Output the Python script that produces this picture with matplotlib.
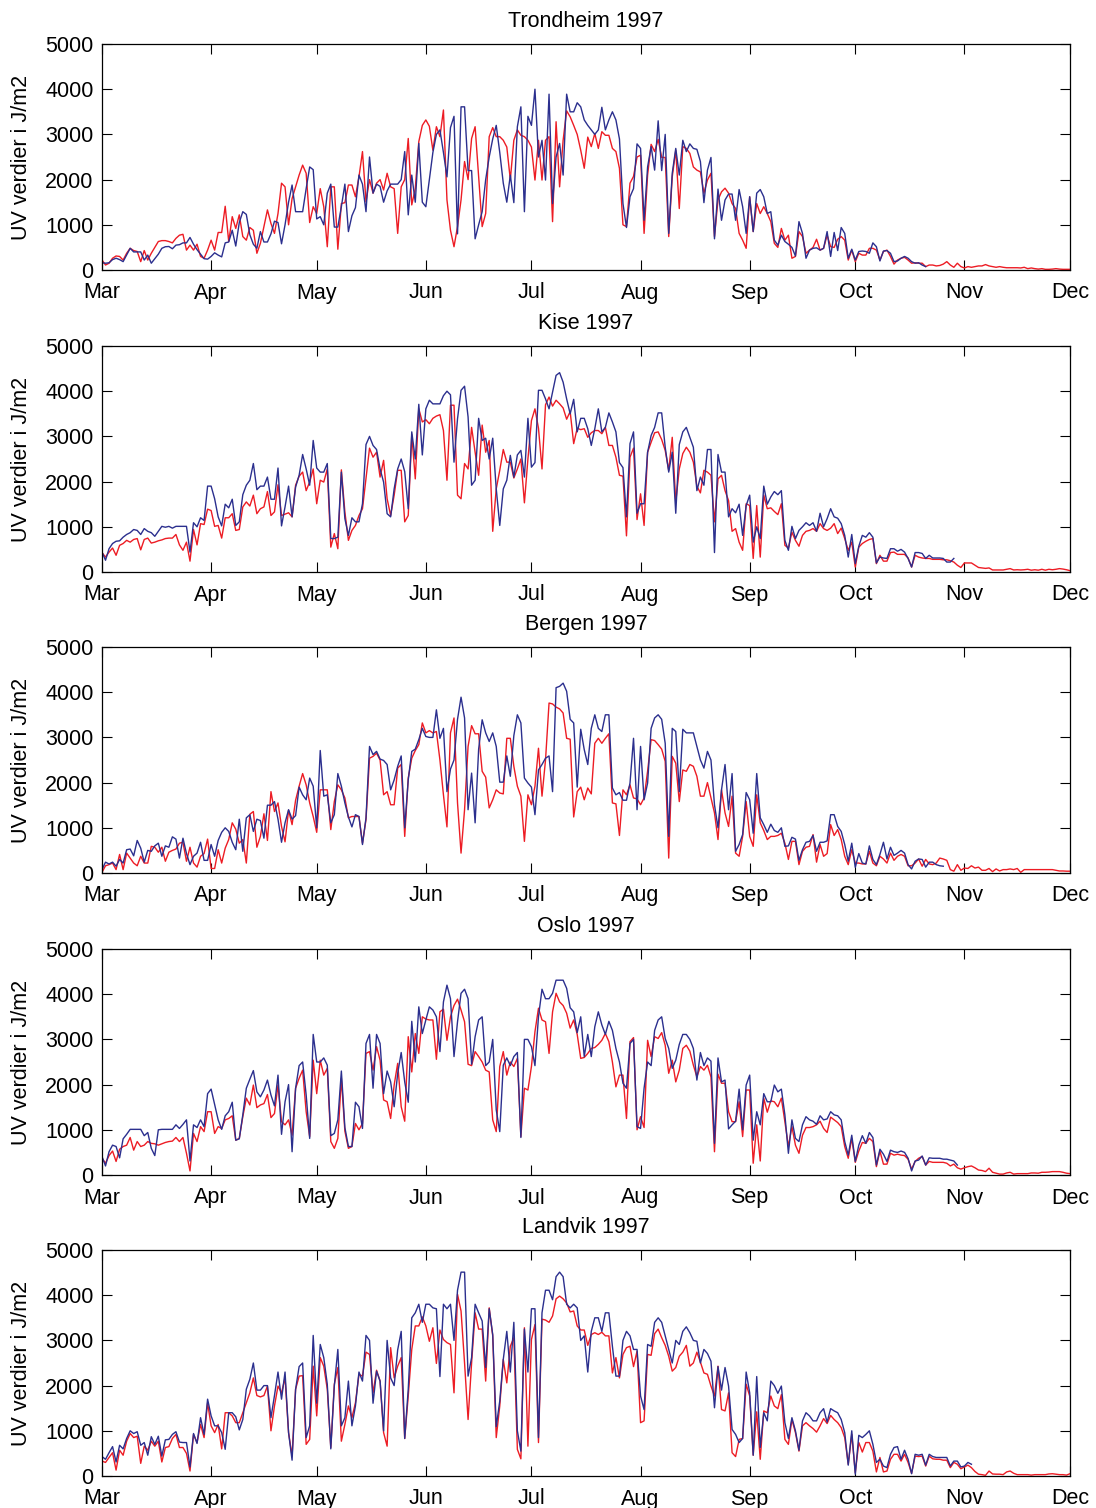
import numpy as np
import matplotlib
matplotlib.use("Agg")
import matplotlib.pyplot as plt

plt.rcParams['font.family'] = ['Liberation Sans', 'DejaVu Sans']

START = '1997-03-01'
END = '1997-12-01'
MONTH_LABELS = ['Mar', 'Apr', 'May', 'Jun', 'Jul', 'Aug', 'Sep', 'Oct', 'Nov', 'Dec']
YTICKS = [0, 1000, 2000, 3000, 4000, 5000]
YLABEL = 'UV verdier i J/m2'
TITLES = ['Trondheim 1997', 'Kise 1997', 'Bergen 1997', 'Oslo 1997', 'Landvik 1997']

# daily values starting 1 March 1997
TR_BLUE = [160,150,160,230,260,230,185,330,480,400,
           400,400,220,330,150,250,350,480,515,520,
           470,550,560,600,600,720,570,450,350,250,
           240,300,380,330,290,600,620,880,530,1050,
           1290,1230,780,570,480,850,620,620,800,1080,
           1050,580,1000,1500,1880,1290,1290,1290,1800,2280,
           2220,1130,1180,1000,1700,1900,950,950,1400,1900,
           850,1200,1380,2100,1900,1290,2500,1700,1900,1850,
           1500,1750,1900,1900,1900,2000,2620,1220,2100,1500,
           2800,1500,1400,2000,2600,3000,3100,2600,2060,3150,
           3400,800,3610,3610,2200,2200,690,1000,1290,2000,
           2500,2900,3200,2600,1920,1500,2100,1490,3170,3610,
           1290,3400,3200,4000,2500,2870,1990,3890,1470,2500,
           2800,2100,3890,3500,3500,3700,3610,3320,3200,3100,
           3000,3100,3600,3100,3320,3500,3320,2900,1470,940,
           1620,1800,2790,2690,1100,2280,2730,2210,3300,2200,
           3000,810,2140,2690,2100,2870,2620,2790,2690,2670,
           2400,1490,2210,2490,690,1790,1100,1550,1680,1680,
           1100,1780,1400,810,1620,850,1700,1780,1620,1250,
           1290,660,550,770,630,570,500,310,1070,810,
           260,440,480,490,440,480,850,300,830,430,
           940,810,260,460,220,410,420,410,370,600,
           515,200,420,430,370,185,200,260,300,260,
           185,150,160,110,75]
TR_RED = [220,110,150,260,310,300,220,370,480,430,
          410,185,430,220,370,500,630,650,650,630,
          600,700,770,790,440,550,440,570,300,260,
          440,660,440,830,830,1410,630,1180,920,1220,
          740,660,940,880,370,590,960,1330,1030,810,
          1250,1920,1840,1000,1580,1840,2100,2320,2140,1050,
          1400,1250,1800,1400,515,1840,1840,460,1470,1490,
          1880,1880,1620,2060,2620,1510,2000,1700,1920,2000,
          1770,2140,1840,1800,810,1840,2000,2910,1440,1800,
          2840,3200,3320,3180,2650,3170,2950,3540,1550,880,
          515,960,1550,2400,2000,2910,3170,2060,960,1250,
          2950,3150,2950,2950,2870,2720,2000,2870,3100,2980,
          2950,2870,2720,1990,2870,1990,2870,2950,1070,3280,
          1840,2870,3520,3390,3200,3000,2650,2250,2940,2730,
          3020,2690,3060,2980,2980,2690,2620,2250,1000,960,
          1920,2070,2500,2540,810,2100,2780,2620,2890,2490,
          2490,740,2060,2650,1360,2730,2690,2580,2280,2210,
          2170,1700,1990,2140,740,1550,1730,1810,1700,1470,
          1360,810,660,480,1620,850,1470,1250,1400,1250,
          1070,590,500,920,660,770,260,300,850,740,
          370,440,500,680,440,480,770,515,500,680,
          740,660,220,440,185,370,330,330,480,480,
          440,220,410,440,300,130,220,260,280,220,
          150,160,150,150,75,110,110,90,100,130,
          185,110,60,150,75,45,75,60,75,90,
          90,120,90,75,60,75,60,50,50,50,
          50,45,60,30,45,30,20,30,15,15,
          20,30,20,15,15,15]

KI_BLUE = [440,260,515,630,680,690,770,830,870,940,
           920,830,960,900,870,790,900,1010,990,1010,
           970,1010,1010,1010,1010,440,1090,1000,1200,1140,
           1900,1900,1620,1220,1020,1500,1420,1610,1030,1110,
           1710,1920,2030,2400,1820,1900,1900,2100,1610,1610,
           2300,1020,1440,1900,1220,1880,2140,2600,2280,1920,
           2910,2300,2210,2210,2400,740,740,770,2210,1180,
           810,1200,1110,1110,1510,2820,3000,2800,2710,2280,
           1990,1290,1220,1840,2280,2500,2220,1400,3100,2500,
           3710,2590,3610,3800,3720,3720,3720,3900,4000,3920,
           2430,3390,4020,4110,3430,1920,2030,3400,2910,2960,
           2500,2960,1840,1030,1840,2030,2580,2100,2590,2690,
           2100,3400,2320,2420,4020,4020,3830,3610,3980,4350,
           4410,4200,3830,3500,3820,3100,3400,3400,3170,2800,
           3170,3610,3100,3200,3520,3320,3100,2420,2310,1220,
           2840,3100,1300,1510,1510,2650,3020,3200,3520,3520,
           2760,2210,2650,1300,2820,3100,3200,2980,2760,1800,
           2100,1920,2710,2710,430,2600,2210,2210,1220,1400,
           1310,1500,810,1470,1700,660,1000,740,1900,1500,
           1660,1780,1710,1800,700,480,1010,740,920,1000,
           1090,1030,1090,900,1300,1000,1180,1400,1220,1190,
           1070,810,330,830,185,570,810,770,870,770,
           200,330,310,300,515,515,460,500,440,300,
           110,430,430,410,300,370,310,310,310,300,
           220,220,300]
KI_RED = [430,330,440,530,370,590,630,700,660,720,
          740,490,720,750,640,660,690,710,740,750,
          750,830,600,480,660,240,940,600,1070,1050,
          1390,1360,1010,1030,750,1200,1200,1290,920,940,
          1440,1550,1460,1700,1290,1400,1440,1780,1250,1330,
          1930,1250,1280,1310,1220,1920,2120,2210,1800,1990,
          2280,1510,2030,1990,2280,550,850,515,2260,1330,
          700,920,1030,1250,1400,2060,2740,2540,2650,2100,
          2470,1620,1250,1700,2250,2250,1110,1250,3040,2060,
          3610,3320,3370,3280,3400,3450,3480,3130,2030,3690,
          3690,1700,1620,2400,2280,3200,2650,2140,3250,2650,
          2910,900,1840,2250,2710,2430,2430,2080,2280,2500,
          1530,2500,3350,3610,3180,2280,3700,3870,3670,3800,
          3720,3630,3380,3550,2840,3180,3150,3170,2980,3080,
          3130,3130,3060,3200,2800,2800,2540,2140,2120,800,
          2540,2740,1160,1730,1030,2650,2870,3080,3100,2930,
          2690,2250,2980,1550,2280,2620,2760,2650,2430,1900,
          1750,2250,2210,2140,1110,2060,2140,1800,1580,900,
          960,660,480,1510,1470,300,1470,330,1700,1400,
          1420,1340,1270,1510,590,530,880,700,570,810,
          900,920,960,900,1070,960,920,970,1070,850,
          970,740,480,660,110,550,630,680,720,740,
          185,370,240,240,430,440,390,390,390,310,
          110,370,330,310,300,300,280,280,280,270,
          270,250,220,150,100,200,200,200,150,100,
          90,80,90,45,45,45,45,60,75,45,
          50,45,50,60,40,50,40,60,40,60,
          50,60,75,65,50,30]

BE_BLUE = [75,240,200,240,150,300,220,515,530,380,
           720,550,240,500,480,600,660,370,600,570,
           800,750,330,770,430,185,370,440,680,280,
           280,630,370,720,900,1000,920,680,515,1190,
           480,1220,1290,920,1190,1160,770,1500,1500,1580,
           1190,680,1110,1400,1190,1270,1900,1730,1620,2100,
           1920,1000,2710,1700,1730,1110,1290,2200,1920,1550,
           1240,1020,1290,1250,630,1220,2800,2620,2690,2520,
           2490,2400,1840,2060,2360,2590,1000,2060,2690,2740,
           2950,3200,3020,3000,3000,3610,2980,3200,1800,2300,
           2500,3400,3890,3430,1400,2210,1110,2740,3390,3100,
           2910,3100,2800,2010,2010,2590,2140,3040,3500,3320,
           2100,1990,1900,1290,2280,2400,2540,2590,1800,4100,
           4130,4200,4020,3400,3320,1900,3180,2730,2400,3200,
           3500,3200,3130,3500,3500,1880,1730,1780,1610,1610,
           1990,2980,1400,2800,1620,1990,3200,3430,3500,3400,
           2870,810,3200,3130,1800,3180,3100,3100,3100,2800,
           2500,2320,2690,2500,1510,1000,1840,2400,1400,2200,
           480,630,850,1780,1620,880,2200,1220,1070,900,
           1080,940,900,1000,590,600,790,750,280,515,
           680,700,830,480,680,680,710,1290,1290,1030,
           920,630,260,660,125,430,220,200,600,300,
           185,410,680,310,570,390,440,500,440,185,
           90,260,310,300,130,240,240,185,160,150]
BE_RED = [15,160,185,220,75,410,75,440,330,220,
          160,370,220,220,590,570,460,570,260,460,
          500,530,660,680,260,570,220,130,370,430,
          750,100,100,515,220,550,740,1110,970,660,
          740,220,1300,1360,570,810,1310,720,1800,1360,
          1550,1030,690,1390,1070,1610,1920,2200,1950,1550,
          1250,900,1840,1840,1840,960,1580,1950,1840,1660,
          1220,1250,1250,1250,660,1180,2540,2580,2650,2500,
          1730,1800,1510,1510,2320,2400,810,2100,2540,2710,
          2840,3320,3100,3150,3100,3130,2500,1730,1020,3100,
          3430,1550,440,1400,2800,3260,3080,3080,2250,2120,
          1440,1620,1840,1770,1750,2980,2980,2360,1920,1700,
          700,1730,1510,1920,2760,1700,2500,3760,3740,3670,
          3630,3540,2980,2960,1240,1800,1900,1620,1880,1750,
          2870,2980,2870,2980,3080,1550,1530,830,1840,1730,
          1950,1660,1640,1510,1660,2250,2950,2930,2840,2740,
          2470,330,2580,2430,1580,2280,2250,2400,2360,2140,
          1700,1700,2000,1660,1330,740,1840,1330,1030,1700,
          440,370,810,1580,810,590,1730,1110,940,740,
          810,810,830,880,660,300,700,700,185,480,
          570,590,850,240,630,370,430,1070,830,960,
          740,370,185,515,220,220,200,200,480,220,
          160,370,310,220,440,280,370,410,370,160,
          160,220,310,150,300,200,185,220,330,310,
          280,75,40,185,60,110,100,160,110,130,
          60,60,100,30,90,45,75,75,90,75,
          100,15,75,75,75,75,75,75,75,75,
          75,60,45,45,40,40]

OS_BLUE = [410,200,515,660,630,380,800,900,1010,1010,
           1010,1010,870,940,590,430,1000,1010,1010,1010,
           1010,1110,1030,1120,1220,310,1110,1050,1220,1070,
           1800,1900,1560,1220,1010,1310,1400,1610,770,800,
           1330,1920,2120,2310,1840,1730,1880,2100,1770,1530,
           2210,900,1620,2000,515,1920,2420,2500,1770,810,
           3110,2500,2500,2590,2430,870,920,1220,2300,1050,
           630,630,1610,1510,1030,2910,3110,1920,3110,2910,
           1800,2300,2060,1510,2250,2710,2060,1610,3400,2500,
           3720,3130,3430,3720,3650,3500,2730,3830,4200,3900,
           2620,3390,4020,4110,3900,2450,3060,3430,3500,2420,
           2500,3000,1440,960,2430,2590,2420,2620,2710,830,
           3000,3000,2840,2420,3500,4110,3900,3900,4020,4310,
           4310,4310,4130,3700,3610,3150,3500,2620,3110,2620,
           3280,3610,3320,3110,3400,3200,2800,2500,2030,1920,
           2910,3000,1070,1030,1920,2500,2420,3200,3430,3500,
           3020,2800,2360,2540,2890,3110,3110,3000,2800,2100,
           2710,2420,2590,2520,700,2590,2060,2100,1020,1110,
           1190,1900,1000,1990,2210,770,1400,1110,1800,1620,
           1620,1990,1840,1900,1330,480,1220,810,740,1110,
           1290,1220,1190,1120,1310,1220,1240,1400,1330,1310,
           1220,740,440,880,300,660,870,700,940,830,
           220,570,460,300,550,515,500,530,500,370,
           90,310,330,420,220,380,370,370,370,350,
           350,330,310,220]
OS_RED = [370,260,430,530,300,570,630,660,830,550,
          740,630,660,740,700,690,660,690,720,740,
          750,830,740,830,480,90,920,740,1070,960,
          1400,1400,920,1070,1030,1220,1250,1310,770,810,
          1290,1700,1550,1990,1490,1550,1580,1780,1270,1360,
          1990,1180,1110,1220,880,1920,2140,2320,1400,850,
          2540,1800,2540,2210,2360,740,590,810,2140,970,
          590,630,1140,1000,1140,2690,2730,2320,2840,2540,
          1660,1620,1250,1990,2470,1510,1190,3060,2280,3130,
          2690,3500,3450,3430,3430,2560,3610,3670,2980,3500,
          3750,3890,3650,3390,2450,2420,2730,2620,2500,2320,
          2280,1220,960,2400,2730,2210,2500,2400,2580,850,
          1920,1880,2400,3170,3690,3430,3390,2690,3610,4020,
          3830,3750,3580,3250,3430,3110,2580,2600,2690,2800,
          2820,2890,2980,3130,2950,2500,1950,2210,2210,1250,
          2950,3040,1000,1290,1050,2980,2620,3060,3020,3150,
          2870,2250,2540,2060,2320,2800,2870,2740,2430,2170,
          2400,2320,2430,2170,515,2230,2030,2030,1400,1180,
          1180,1620,850,1880,1880,260,1110,310,1700,1390,
          1640,1620,1510,1700,1180,630,1070,660,480,880,
          1050,1050,1070,1110,1190,1030,940,1280,1220,1160,
          1070,630,370,810,280,530,720,700,810,740,
          185,530,240,240,480,440,460,440,430,350,
          130,300,370,410,220,300,280,280,280,280,
          260,200,240,160,130,160,185,200,160,110,
          100,75,150,60,40,20,20,45,60,20,
          30,30,30,30,45,45,40,60,60,65,
          75,75,75,60,40,30]

LA_BLUE = [430,370,515,650,310,680,600,830,1000,940,
           980,680,740,460,870,700,880,440,800,810,
           920,980,750,740,740,200,940,720,1290,920,
           1700,1330,1110,1110,960,590,1400,1400,1310,1020,
           1250,1920,2140,2500,1900,1900,2000,2000,1290,1780,
           2300,1700,2300,960,350,1920,2420,2500,850,1110,
           3110,1610,2910,2620,2030,600,1990,2800,1110,1290,
           2100,1110,1550,2300,2100,3110,3000,1610,2320,2100,
           1000,3000,2170,2000,2790,3200,830,1920,3500,3610,
           3800,3400,3800,3800,3720,3700,2200,3800,3700,3800,
           3000,4110,4510,4510,2210,2620,3800,3610,3430,2400,
           3700,3130,1090,1660,2580,3200,2300,3400,1000,550,
           3250,2300,3700,3700,850,3610,4110,4110,3900,4410,
           4510,4410,3800,3720,3800,3720,3000,3100,2300,3200,
           3500,3500,3200,3610,3610,2870,2210,2210,3000,3200,
           3100,2800,2800,1770,1470,2910,2870,3400,3500,3400,
           3100,2800,2500,3000,2910,3200,3300,3170,3000,2980,
           2500,2800,2710,2540,1510,2420,1900,2400,1990,1030,
           920,740,830,2300,1840,460,2200,630,1400,1220,
           2100,2000,1830,1990,1180,830,1290,1000,570,1220,
           1400,1330,1220,1220,1400,1490,1190,1490,1440,1400,
           1250,960,240,1000,40,900,850,920,1000,700,
           300,370,220,185,480,630,650,370,570,370,
           50,480,460,480,240,480,430,410,410,410,
           410,220,330,330,200,220,300,260]
LA_RED = [330,300,410,515,130,570,460,770,940,850,
          880,280,660,570,770,660,770,310,630,650,
          830,920,630,630,500,110,920,740,1140,850,
          1620,1110,960,1140,600,1400,1400,1330,1180,1180,
          1400,1620,1840,2170,1780,1750,1780,1990,1000,1550,
          1990,1840,2170,960,440,1920,2210,2220,700,810,
          2430,1330,2620,2430,1920,630,2030,2400,770,1140,
          1550,1290,1620,2250,2210,2740,2690,1840,2340,2100,
          960,660,2840,2170,2430,2620,830,1770,2800,3320,
          3320,3520,3320,2980,3280,2490,3230,3020,2950,2910,
          1840,4020,3650,2500,1250,2500,3610,3250,3250,2100,
          3720,3100,850,1550,2580,2060,2870,3060,590,380,
          3280,660,3020,3350,740,3470,3450,3400,3540,3920,
          3980,3920,3830,3630,3650,3320,3230,3230,2890,3130,
          3170,3130,3180,3100,3100,2280,2620,2170,2690,2840,
          2870,2420,2760,1180,1220,2690,2670,3150,3250,3060,
          2890,2650,2320,2400,2650,2740,2890,2430,2500,2740,
          2520,2280,2250,1990,1770,2430,1470,1440,1840,515,
          430,810,830,2030,1770,460,1420,370,1440,1400,
          1770,1550,1490,1800,810,700,1250,960,550,1110,
          1180,1110,1050,970,1110,1270,1160,1340,1250,1180,
          1070,850,260,920,75,740,530,740,740,550,
          90,410,90,110,370,480,480,330,480,300,
          60,440,430,440,220,440,380,370,370,350,
          350,185,300,260,160,200,240,185,100,40,
          30,15,110,45,40,40,30,90,110,60,
          30,30,30,30,20,30,30,30,30,45,
          50,40,30,30,20,50]

STATIONS = [(TR_BLUE, TR_RED), (KI_BLUE, KI_RED), (BE_BLUE, BE_RED),
            (OS_BLUE, OS_RED), (LA_BLUE, LA_RED)]

RED = '#ed1c24'
BLUE = '#2b2f8e'
FS = 15.5

W, H = 1096, 1508
fig = plt.figure(figsize=(W / 100, H / 100), dpi=100)

left = 102 / W
width = (1070 - 102) / W
tops = [44, 346, 647, 949, 1250]
ph = 226

start = np.datetime64(START)
month_ticks = np.arange(np.datetime64('1997-03'), np.datetime64('1998-01'),
                        dtype='datetime64[M]').astype('datetime64[D]')

for i, (title, (blue, red)) in enumerate(zip(TITLES, STATIONS)):
    bottom = 1 - (tops[i] + ph) / H
    ax = fig.add_axes([left, bottom, width, ph / H])
    d_red = start + np.arange(len(red))
    d_blue = start + np.arange(len(blue))
    ax.plot(d_red, red, color=RED, lw=1.0)
    ax.plot(d_blue, blue, color=BLUE, lw=1.0)
    ax.set_xlim(np.datetime64(START), np.datetime64(END))
    ax.set_ylim(0, 5000)
    ax.set_yticks(YTICKS)
    ax.set_xticks(month_ticks)
    ax.set_xticklabels(MONTH_LABELS)
    ax.tick_params(direction='in', length=7, width=0.8, labelsize=FS,
                   top=True, right=True, colors='black')
    ax.tick_params(axis='x', pad=9)
    ax.tick_params(axis='y', pad=6)
    for s in ax.spines.values():
        s.set_linewidth(0.9)
    ax.set_title(title, fontsize=FS, pad=12)
    fig.text(22 / W, bottom + ph / H / 2, YLABEL, rotation=90,
             ha='center', va='center', fontsize=FS)

fig.savefig('out.png', dpi=100)
